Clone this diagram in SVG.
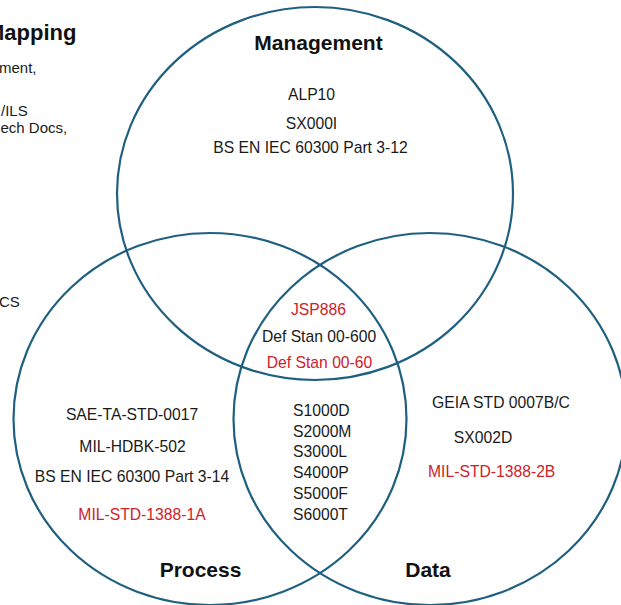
<svg xmlns="http://www.w3.org/2000/svg" width="621" height="605" viewBox="0 0 621 605">
<style>
  .ring { fill: none; stroke: #1f5f80; stroke-width: 2.2; }
  .t { font-family: "Liberation Sans", Arial, sans-serif; font-size: 15.7px; fill: #1a1a1a; text-anchor: middle; }
  .red { fill: #d0202a; }
  .h { font-family: "Liberation Sans", Arial, sans-serif; font-size: 21px; font-weight: bold; fill: #111111; text-anchor: middle; }
  .side { font-size: 15px; }
  .s { text-anchor: start; }
</style>
<rect width="621" height="605" fill="#ffffff"/>
<g id="side-text">
  <text class="h s" x="-14" y="40" style="font-size:22px">Mapping</text>
  <text class="t s side" x="-1" y="73">ment,</text>
  <text class="t s side" x="1" y="116">/ILS</text>
  <text class="t s side" x="0.5" y="133">ech Docs,</text>
  <text class="t s side" x="-1" y="307">CS</text>
</g>
<g id="connectors"></g>
<g id="management">
  <ellipse class="ring" cx="315" cy="193.5" rx="198" ry="186.5"/>
  <text class="h" x="318.5" y="50">Management</text>
  <text class="t" x="311.5" y="99.5">ALP10</text>
  <text class="t" x="311.5" y="128.5">SX000I</text>
  <text class="t" x="310.5" y="152.5">BS EN IEC 60300 Part 3-12</text>
</g>
<g id="process">
  <ellipse class="ring" cx="210" cy="419" rx="196.5" ry="186"/>
  <text class="h" x="200.5" y="577">Process</text>
  <text class="t" x="132" y="419.5">SAE-TA-STD-0017</text>
  <text class="t" x="132.5" y="452">MIL-HDBK-502</text>
  <text class="t" x="132" y="482">BS EN IEC 60300 Part 3-14</text>
  <text class="t red" x="142" y="519.5">MIL-STD-1388-1A</text>
</g>
<g id="data">
  <ellipse class="ring" cx="430" cy="419" rx="196.5" ry="186"/>
  <text class="h" x="428" y="577">Data</text>
  <text class="t" x="501" y="408">GEIA STD 0007B/C</text>
  <text class="t" x="483" y="442.5">SX002D</text>
  <text class="t red" x="491.7" y="477">MIL-STD-1388-2B</text>
</g>
<g id="all-three">
  <text class="t red" x="318.5" y="315">JSP886</text>
  <text class="t" x="319" y="341.5">Def Stan 00-600</text>
  <text class="t red" x="319.5" y="367.5">Def Stan 00-60</text>
</g>
<g id="process-data">
  <text class="t s" x="293" y="416">S1000D</text>
  <text class="t s" x="293" y="437">S2000M</text>
  <text class="t s" x="293" y="457">S3000L</text>
  <text class="t s" x="293" y="478">S4000P</text>
  <text class="t s" x="293" y="499">S5000F</text>
  <text class="t s" x="293" y="520">S6000T</text>
</g>
</svg>
